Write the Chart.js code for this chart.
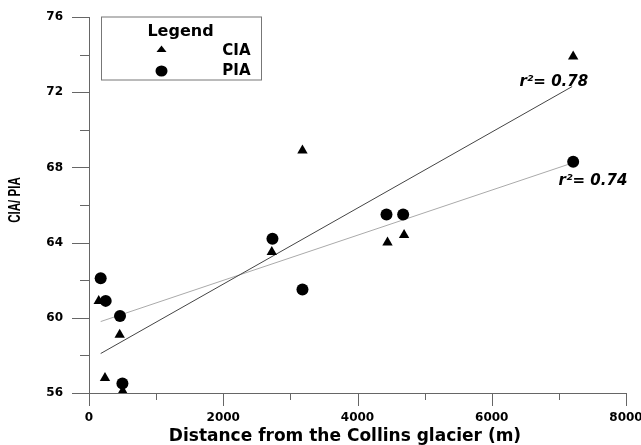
<!DOCTYPE html>
<html>
<head>
<meta charset="utf-8">
<script src="https://cdn.jsdelivr.net/npm/chart.js@4.4.0/dist/chart.umd.min.js"></script>
<style>
	body { margin: 0; background: #fff; }
	#wrap { width: 641px; height: 445px; }
</style>
</head>
<body>
<div id="wrap"><canvas id="graficoCia" width="641" height="445"></canvas></div>
<script>
// valores
var ciaDistancia = [145, 238, 457, 502, 2723, 3180, 4447, 4694, 7213];
var ciaValores = [60.9, 56.8, 59.1, 56.1, 63.5, 68.9, 64.0, 64.4, 73.9];
var piaDistancia = [174, 249, 462, 498, 2733, 3180, 4432, 4680, 7213];
var piaValores = [62.1, 60.9, 60.1, 56.5, 64.2, 61.5, 65.5, 65.5, 68.3];

// retas de regressao (extremos)
var ciaRetaX = [174, 7198];
var ciaRetaY = [58.1, 72.3];
var piaRetaX = [174, 7174];
var piaRetaY = [59.8, 68.2];

var xTicks = [0, 2000, 4000, 6000, 8000];
var xMinor = [1000, 3000, 5000, 7000];
var yTicks = [56, 60, 64, 68, 72, 76];
var yMinor = [58, 62, 66, 70, 74];

var tituloX = 'Distance from the Collins glacier (m)';
var tituloY = 'CIA/ PIA';
var ciaR2 = 'r²= 0.78';
var piaR2 = 'r²= 0.74';

function pontos(xs, ys) {
	var lista = [];
	xs.forEach(function(x, i) {
		lista.push({ x: x, y: ys[i] });
	});
	return lista;
}

var corEixo = '#666';

var extras = {
	id: 'extras',
	afterDraw: function(chart) {
		var ctx = chart.ctx;
		var xs = chart.scales.x;
		var ys = chart.scales.y;
		var area = chart.chartArea;

		// marcas dos eixos
		ctx.save();
		ctx.strokeStyle = corEixo;
		ctx.lineWidth = 1;
		ctx.beginPath();
		yTicks.forEach(function(v) {
			var py = Math.round(ys.getPixelForValue(v)) + 0.5;
			ctx.moveTo(area.left - 17, py);
			ctx.lineTo(area.left, py);
		});
		yMinor.forEach(function(v) {
			var py = Math.round(ys.getPixelForValue(v)) + 0.5;
			ctx.moveTo(area.left - 9, py);
			ctx.lineTo(area.left, py);
		});
		xTicks.forEach(function(v) {
			var px = Math.round(xs.getPixelForValue(v)) + 0.5;
			ctx.moveTo(px, area.bottom);
			ctx.lineTo(px, area.bottom + 13);
		});
		xMinor.forEach(function(v) {
			var px = Math.round(xs.getPixelForValue(v)) + 0.5;
			ctx.moveTo(px, area.bottom);
			ctx.lineTo(px, area.bottom + 7);
		});
		ctx.stroke();

		// titulos dos eixos
		ctx.fillStyle = '#000';
		ctx.textBaseline = 'middle';
		ctx.textAlign = 'center';
		ctx.font = 'bold 17px "DejaVu Sans"';
		ctx.fillText(tituloX, area.left + 256, area.bottom + 44);
		ctx.save();
		ctx.translate(16, area.top + 183);
		ctx.rotate(-Math.PI / 2);
		ctx.scale(0.72, 1);
		ctx.font = 'bold 16px "Liberation Sans"';
		ctx.fillText(tituloY, 0, 0);
		ctx.restore();

		// legenda
		var lx = area.left + 12.5;
		var ly = area.top;
		ctx.strokeStyle = '#777';
		ctx.strokeRect(lx, ly, 160, 63);
		ctx.textAlign = 'center';
		ctx.font = 'bold 16px "DejaVu Sans"';
		ctx.fillText('Legend', lx + 79, ly + 15);
		ctx.font = 'bold 15px "DejaVu Sans"';
		ctx.textAlign = 'right';
		ctx.fillText('CIA', lx + 149, ly + 34);
		ctx.fillText('PIA', lx + 149, ly + 54);
		ctx.beginPath();
		ctx.moveTo(lx + 60, ly + 28.5);
		ctx.lineTo(lx + 55, ly + 35);
		ctx.lineTo(lx + 65, ly + 35);
		ctx.closePath();
		ctx.fill();
		ctx.beginPath();
		ctx.ellipse(lx + 60, ly + 54, 6, 5.5, 0, 0, Math.PI * 2);
		ctx.fill();

		// r2
		ctx.font = 'italic bold 15px "DejaVu Sans"';
		ctx.textBaseline = 'alphabetic';
		ctx.textAlign = 'right';
		ctx.fillText(ciaR2, xs.getPixelForValue(ciaRetaX[1]) + 16, ys.getPixelForValue(ciaRetaY[1]) - 1);
		ctx.textAlign = 'left';
		ctx.fillText(piaR2, xs.getPixelForValue(piaRetaX[1]) - 12, ys.getPixelForValue(piaRetaY[1]) + 21);
		ctx.restore();
	}
};

var fonteTick = { family: '"DejaVu Sans"', size: 12, weight: 'bold' };

var ctx = document.getElementById('graficoCia').getContext('2d');
var grafico = new Chart(ctx, {
	type: 'scatter',
	data: {
		datasets: [{
			label: 'CIA',
			data: pontos(ciaDistancia, ciaValores),
			pointStyle: 'triangle',
			pointRadius: 6,
			backgroundColor: '#000',
			borderColor: '#000',
			borderWidth: 0
		},
		{
			label: 'PIA',
			data: pontos(piaDistancia, piaValores),
			pointStyle: 'circle',
			pointRadius: 6,
			backgroundColor: '#000',
			borderColor: '#000',
			borderWidth: 0
		},
		{
			label: 'CIA fit',
			type: 'line',
			data: pontos(ciaRetaX, ciaRetaY),
			showLine: true,
			pointRadius: 0,
			borderColor: '#444',
			borderWidth: 1
		},
		{
			label: 'PIA fit',
			type: 'line',
			data: pontos(piaRetaX, piaRetaY),
			showLine: true,
			pointRadius: 0,
			borderColor: '#aaa',
			borderWidth: 1
		}]
	},
	options: {
		responsive: false,
		animation: false,
		events: [],
		layout: { padding: { top: 17, right: 15, left: 0, bottom: 0 } },
		plugins: {
			legend: { display: false },
			tooltip: { enabled: false }
		},
		scales: {
			x: {
				type: 'linear',
				min: 0,
				max: 8000,
				afterFit: function(scale) {
					scale.height = 52;
					scale.paddingLeft = 0;
					scale.paddingRight = 0;
				},
				grid: { display: false, drawTicks: true, tickLength: 13 },
				border: { display: true, color: corEixo, width: 1 },
				ticks: {
					stepSize: 2000, color: '#000', font: fonteTick, padding: 5, maxRotation: 0,
					callback: function(v) { return String(v); }
				}
			},
			y: {
				min: 56,
				max: 76,
				afterFit: function(scale) {
					scale.width = 89;
					scale.paddingTop = 0;
					scale.paddingBottom = 0;
				},
				grid: { display: false, drawTicks: true, tickLength: 17 },
				border: { display: true, color: corEixo, width: 1 },
				ticks: {
					stepSize: 4, color: '#000', font: fonteTick, padding: 9,
					callback: function(v) { return String(v); }
				}
			}
		}
	},
	plugins: [extras]
});
</script>
</body>
</html>
